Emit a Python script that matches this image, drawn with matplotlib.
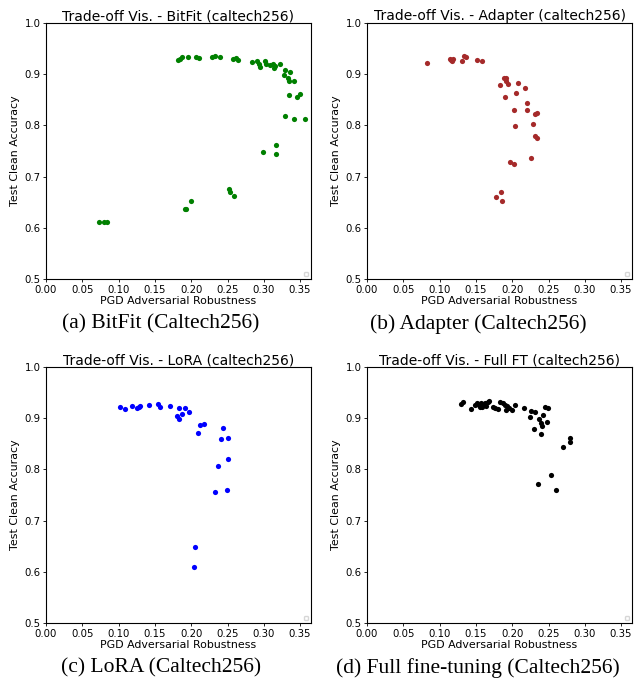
import numpy as np
import matplotlib.pyplot as plt

# BitFit
bitfit_x = [0.0735, 0.080, 0.0845, 0.1915, 0.193, 0.200, 0.2526, 0.2535, 0.2595,
            0.299, 0.3165, 0.3165, 0.329, 0.3417, 0.357, 0.3352, 0.3463, 0.350,
            0.328, 0.3289, 0.3335, 0.3352, 0.3362, 0.341,
            0.1823, 0.1846, 0.1878, 0.196, 0.2067, 0.2112, 0.2283, 0.2329, 0.2398,
            0.257, 0.262, 0.265, 0.2834, 0.290, 0.293, 0.295, 0.302, 0.303,
            0.3086, 0.3124, 0.3142, 0.3151, 0.3224]
bitfit_y = [0.611, 0.611, 0.611, 0.636, 0.637, 0.653, 0.676, 0.669, 0.663,
            0.749, 0.761, 0.745, 0.8176, 0.8125, 0.813, 0.860, 0.8555, 0.8613,
            0.899, 0.908, 0.8925, 0.887, 0.905, 0.887,
            0.927, 0.930, 0.934, 0.934, 0.933, 0.932, 0.934, 0.936, 0.934,
            0.929, 0.932, 0.927, 0.924, 0.925, 0.920, 0.915, 0.926, 0.920,
            0.917, 0.920, 0.912, 0.916, 0.920]

# Adapter
adapter_x = [0.0827, 0.114, 0.116, 0.117, 0.118, 0.1314, 0.133, 0.1365, 0.152, 0.158,
             0.183, 0.189, 0.192, 0.191, 0.194, 0.190, 0.2076, 0.205, 0.217,
             0.203, 0.2205, 0.2205, 0.232, 0.234, 0.204, 0.229, 0.2315, 0.234,
             0.197, 0.203, 0.226, 0.178, 0.184, 0.1865]
adapter_y = [0.922, 0.929, 0.928, 0.926, 0.929, 0.926, 0.935, 0.934, 0.928, 0.926,
             0.878, 0.892, 0.892, 0.886, 0.881, 0.855, 0.882, 0.863, 0.873,
             0.831, 0.844, 0.831, 0.822, 0.825, 0.798, 0.803, 0.780, 0.776,
             0.728, 0.724, 0.736, 0.661, 0.670, 0.652]

# LoRA
lora_x = [0.102, 0.109, 0.118, 0.125, 0.128, 0.129, 0.1424, 0.154, 0.157, 0.171,
          0.180, 0.183, 0.183, 0.188, 0.192, 0.197, 0.209, 0.212, 0.218,
          0.2435, 0.2407, 0.250, 0.251, 0.2375, 0.2334, 0.249, 0.205, 0.2044]
lora_y = [0.9225, 0.9175, 0.924, 0.920, 0.922, 0.924, 0.926, 0.927, 0.922, 0.924,
          0.904, 0.899, 0.920, 0.909, 0.920, 0.913, 0.871, 0.887, 0.888,
          0.880, 0.859, 0.861, 0.821, 0.806, 0.755, 0.759, 0.649, 0.609]

# Full fine-tuning
full_x = [0.1295, 0.132, 0.143, 0.149, 0.152, 0.155, 0.157, 0.160, 0.162, 0.164,
          0.166, 0.168, 0.154, 0.158, 0.173, 0.176, 0.181, 0.183, 0.187, 0.190,
          0.193, 0.196, 0.191, 0.200, 0.204, 0.2163, 0.2255, 0.2315, 0.2246,
          0.245, 0.2499, 0.243, 0.2375, 0.2475, 0.239, 0.241, 0.230, 0.240,
          0.279, 0.280, 0.2706, 0.2535, 0.236, 0.2604]
full_y = [0.928, 0.931, 0.918, 0.926, 0.929, 0.922, 0.930, 0.926, 0.929, 0.924,
          0.931, 0.934, 0.925, 0.921, 0.922, 0.919, 0.918, 0.931, 0.929, 0.925,
          0.923, 0.920, 0.916, 0.916, 0.926, 0.920, 0.914, 0.913, 0.902,
          0.921, 0.919, 0.906, 0.898, 0.893, 0.890, 0.885, 0.879, 0.869,
          0.861, 0.854, 0.844, 0.790, 0.771, 0.760]

titles = ["Trade-off Vis. - BitFit (caltech256)", "Trade-off Vis. - Adapter (caltech256)",
          "Trade-off Vis. - LoRA (caltech256)", "Trade-off Vis. - Full FT (caltech256)"]
captions = ["(a) BitFit (Caltech256)", "(b) Adapter (Caltech256)",
            "(c) LoRA (Caltech256)", "(d) Full fine-tuning (Caltech256)"]
colors = ["green", "brown", "blue", "black"]
xs = [bitfit_x, adapter_x, lora_x, full_x]
ys = [bitfit_y, adapter_y, lora_y, full_y]

W, H = 634, 686
fig = plt.figure(figsize=(W / 100, H / 100), dpi=100)

# axes boxes in pixels: left, top
boxes = [(46, 23), (367, 23), (46, 367), (367, 367)]
aw, ah = 265, 256
cap_pos = [(161, 324), (478, 324), (161, 668), (478, 668)]
xt = np.arange(0, 0.36, 0.05)

for i in range(4):
    l, t = boxes[i]
    ax = fig.add_axes([l / W, 1 - (t + ah) / H, aw / W, ah / H])
    ax.scatter(xs[i], ys[i], s=14, color=colors[i], linewidths=0)
    ax.set_xlim(0, 0.365)
    ax.set_ylim(0.5, 1.0)
    ax.set_xticks(xt)
    ax.set_xticklabels(["%.2f" % v for v in xt])
    ax.set_yticks([0.5, 0.6, 0.7, 0.8, 0.9, 1.0])
    ax.tick_params(labelsize=7.3, length=2.5, width=0.6, pad=1.5)
    ax.set_title(titles[i], fontsize=10, pad=2)
    ax.set_xlabel("PGD Adversarial Robustness", fontsize=7.9, labelpad=1)
    ax.set_ylabel("Test Clean Accuracy", fontsize=7.9, labelpad=3)
    for sp in ax.spines.values():
        sp.set_linewidth(0.8)
    # empty legend box, as in the original
    ax.legend(loc="lower right", fontsize=4, framealpha=0.8)
    fig.text(cap_pos[i][0] / W, 1 - cap_pos[i][1] / H, captions[i],
             ha="center", va="center", fontsize=15.5, family="Liberation Serif")

fig.savefig("out.png", dpi=100)
